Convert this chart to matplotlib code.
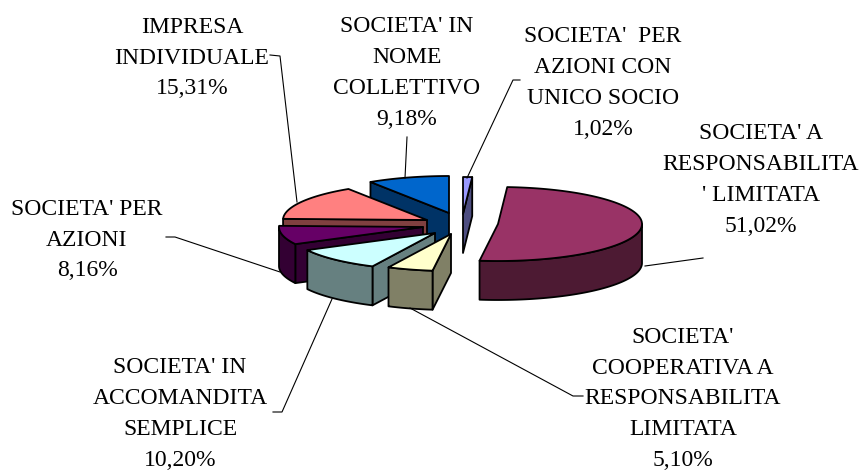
import numpy as np
import matplotlib
matplotlib.use("Agg")
import matplotlib.pyplot as plt
from matplotlib.patches import Polygon

plt.rcParams['font.family'] = ['Liberation Serif', 'DejaVu Serif']

# ===============================
# Data (clockwise from 12 o'clock)
# ===============================
names = ["SOCIETA'  PER\nAZIONI CON\nUNICO SOCIO",
         "SOCIETA' A\nRESPONSABILITA\n' LIMITATA",
         "SOCIETA'\nCOOPERATIVA A\nRESPONSABILITA\nLIMITATA",
         "SOCIETA' IN\nACCOMANDITA\nSEMPLICE",
         "SOCIETA' PER\nAZIONI",
         "IMPRESA\nINDIVIDUALE",
         "SOCIETA' IN\nNOME\nCOLLETTIVO"]
shares = [1.02, 51.02, 5.10, 10.20, 8.16, 15.31, 9.18]
share_labels = ["1,02%", "51,02%", "5,10%", "10,20%", "8,16%", "15,31%", "9,18%"]

top_colors = ['#9999FF', '#993366', '#FFFFCC', '#CCFFFF', '#660066', '#FF8080', '#0066CC']
side_colors = ['#4D4D80', '#4D1A33', '#808066', '#668080', '#330033', '#804040', '#003366']

# exploded centre of each slice, in pixels
centres = [(463, 214), (498, 224), (451, 234), (435, 233), (423, 227), (427, 220), (449, 213)]

# label anchor (centre of text block) and leader line for each slice
label_pos = [(603, 83), (761, 180), (683, 399), (180, 414), (87, 240), (192, 58), (407, 73)]
leaders = [[(467, 178), (513, 80), (520, 80)],
           [(645, 266), (703, 258)],
           [(410, 308), (573, 396), (583, 396)],
           [(332, 299), (282, 412), (273, 412)],
           [(280, 272), (175, 237), (166, 237)],
           [(297, 202), (280, 56), (270, 55)],
           [(405, 178), (407, 137)]]

RX = 144
RY = 37
DEPTH = 39

def pt(c, ang, rad=1.0):
    a = np.radians(ang)
    return np.column_stack((c[0] + rad * RX * np.sin(a), c[1] - rad * RY * np.cos(a)))

fig = plt.figure(figsize=(8.64, 4.70), dpi=100)
ax = fig.add_axes([0, 0, 1, 1])
ax.set_xlim(0, 864)
ax.set_ylim(470, 0)
ax.axis('off')

edges = np.concatenate(([0], np.cumsum(shares) / np.sum(shares) * 360))

# back to front so nearer slices cover the others
draw_order = [6, 0, 5, 4, 3, 2, 1]
for i in draw_order:
    a1, a2 = edges[i], edges[i + 1]
    c = centres[i]
    down = np.array([0, DEPTH])
    style = dict(edgecolor='black', linewidth=1.3, joinstyle='round')

    # cut face at the start of the slice
    if np.sin(np.radians(a1)) < -1e-6:
        p = np.array(c, float)
        q = pt(c, a1)[0]
        ax.add_patch(Polygon([p, q, q + down, p + down], facecolor=side_colors[i], **style))
    # cut face at the end of the slice
    if np.sin(np.radians(a2)) > 1e-6:
        p = np.array(c, float)
        q = pt(c, a2)[0]
        ax.add_patch(Polygon([p, q, q + down, p + down], facecolor=side_colors[i], **style))

    # outer wall, front half of the rim only
    lo, hi = max(a1, 90), min(a2, 270)
    if hi > lo:
        arc = pt(c, np.linspace(lo, hi, 80))
        ax.add_patch(Polygon(np.vstack((arc, (arc + down)[::-1])), facecolor=side_colors[i], **style))

    arc = pt(c, np.linspace(a1, a2, 160))
    ax.add_patch(Polygon(np.vstack(([c], arc)), facecolor=top_colors[i], **style))

for i, name in enumerate(names):
    line = np.array(leaders[i])
    ax.plot(line[:, 0], line[:, 1], color='black', linewidth=0.8, zorder=1)
    ax.text(label_pos[i][0], label_pos[i][1], name + "\n" + share_labels[i],
            ha='center', va='center', multialignment='center',
            fontsize=17, linespacing=1.62, color='black', zorder=5)

plt.savefig("out.png", dpi=100)
